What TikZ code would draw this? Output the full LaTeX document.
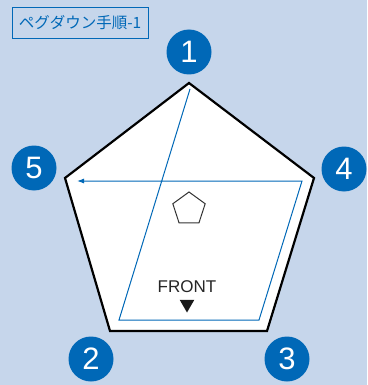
\documentclass[tikz,border=0pt]{standalone}
\usepackage{fontspec}
\setmainfont{Liberation Sans}
\newfontfamily\jpfont{Noto Sans CJK JP}
\usetikzlibrary{arrows.meta,shapes.geometric}
\tikzset{>={Latex[width=5pt,length=7pt]}}
\definecolor{bgblue}{HTML}{C6D6EB}
\definecolor{dblue}{HTML}{0068B7}
\tikzset{
  num/.style={circle,fill=dblue,minimum size=45pt,inner sep=0pt,text=white,font=\fontsize{31}{31}\selectfont},
  route/.style={draw=dblue,line width=1pt},
}

\begin{document}
\begin{tikzpicture}[x=1pt,y=-1pt]

  \fill[bgblue] (0,0) rectangle (367,385);
  \useasboundingbox (0,0) rectangle (367,385);

  % title
  \node[draw=dblue,line width=0.8pt,text=dblue,minimum width=136pt,minimum height=31pt,inner sep=0pt,font=\jpfont\fontsize{15.5}{16}\selectfont] (title) at (80,22.5) {ペグダウン手順-1};

  % board corners
  \coordinate (top) at (189,83);
  \coordinate (rt) at (314,178);
  \coordinate (br) at (267,331);
  \coordinate (bl) at (110,331);
  \coordinate (lt) at (65,178);
  \draw[line width=2.2pt,fill=white,line join=miter] (top) -- (rt) -- (br) -- (bl) -- (lt) -- cycle;

  % route of the pegs
  \coordinate (p1) at (190,89);
  \coordinate (p2) at (119,320);
  \coordinate (p3) at (259,320);
  \coordinate (p4) at (302,181);
  \coordinate (p5) at (77,181);
  \draw[route,->] (p1) -- (p2) -- (p3) -- (p4) -- (p5);

  % marks on the board
  \node[regular polygon,regular polygon sides=5,draw=black!80,line width=1pt,minimum size=34pt,inner sep=0pt] (mark) at (189,209) {};
  \node[font=\fontsize{17}{17}\selectfont,text=black!85] (front) at (187,287) {FRONT};
  \node[regular polygon,regular polygon sides=3,shape border rotate=180,fill=black!90,minimum size=17pt,inner sep=0pt] (tri) at (187,304) {};

  % numbers
  \node[num] (n1) at (189,52) {1};
  \node[num] (n2) at (91,359) {2};
  \node[num] (n3) at (287,359) {3};
  \node[num] (n4) at (344,169) {4};
  \node[num] (n5) at (34,168) {5};

\end{tikzpicture}
\end{document}
